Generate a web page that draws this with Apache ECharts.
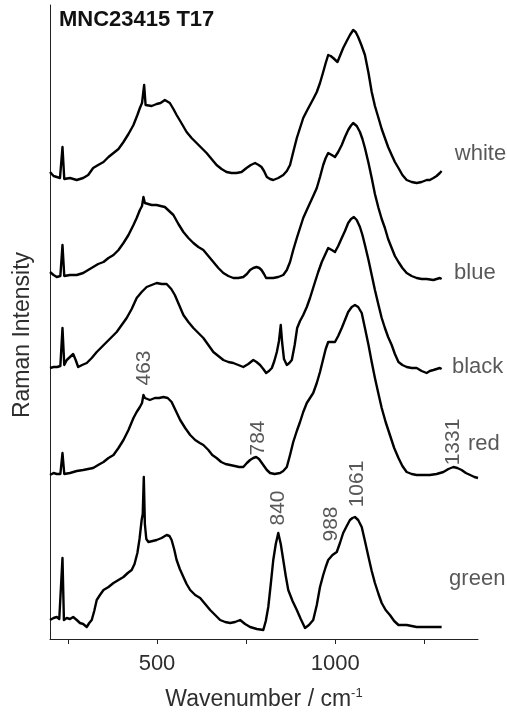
<!DOCTYPE html>
<html>
<head>
<meta charset="utf-8">
<script src="https://cdn.jsdelivr.net/npm/echarts@6/dist/echarts.min.js"></script>
<style>
  html, body { margin: 0; padding: 0; background: #fff; }
  #chart { width: 507px; height: 715px; }
</style>
</head>
<body>
<div id="chart"></div>
<script>
// Raman spectra of sample MNC23415 T17, five colour zones stacked with offsets.
// Each entry: [wavenumber (cm-1), intensity incl. stacking offset (a.u.)]
const white = [
  [200,467],[210,463],[219,462],[228,461],[235,492],[240,460],[256,461],[275,459],[293,461],[307,464],
  [321,471],[335,474],[350,477],[364,482],[378,486],[392,490],[406,497],[420,505],[434,514],[445,524],
  [452,531],[458,536],[464,554],[468,534],[471,532],[485,533],[499,535],[510,536],[522,539],[536,536],
  [546,530],[555,524],[570,515],[583,507],[597,501],[611,496],[625,491],[639,486],[653,480],[667,474],
  [681,470],[695,467],[709,466],[723,466],[737,467],[751,471],[763,474],[775,476],[785,474],[793,472],
  [800,468],[808,462],[817,460],[826,459],[840,461],[854,464],[864,468],[873,474],[882,487],[892,501],
  [901,511],[910,521],[920,528],[929,534],[938,540],[948,547],[957,556],[966,567],[973,576],[980,584],
  [987,583],[994,581],[1000,579],[1006,577],[1014,584],[1022,591],[1032,598],[1041,604],[1050,609],[1057,607],
  [1064,602],[1073,594],[1083,584],[1093,566],[1102,547],[1111,533],[1121,521],[1130,510],[1139,501],[1148,492],
  [1158,484],[1167,477],[1177,471],[1188,464],[1200,459],[1214,457],[1228,456],[1242,457],[1256,459],[1265,459],
  [1275,461],[1284,463],[1293,466],[1298,468]
];
const blue = [
  [200,367],[210,364],[219,362],[229,363],[235,394],[240,363],[256,364],[275,364],[293,366],[307,369],
  [321,372],[335,375],[350,377],[364,381],[378,384],[392,389],[406,396],[420,404],[434,414],[443,421],
  [452,429],[458,433],[462,442],[466,436],[471,435],[485,434],[499,434],[510,433],[522,432],[534,428],
  [546,424],[560,415],[574,407],[588,401],[602,396],[616,392],[630,389],[644,383],[658,377],[672,371],
  [686,366],[700,363],[714,361],[728,361],[742,362],[752,365],[761,369],[770,371],[779,372],[787,371],
  [793,369],[800,365],[806,361],[815,361],[826,361],[840,362],[854,364],[864,369],[873,377],[882,389],
  [892,401],[901,411],[910,421],[920,429],[929,436],[938,443],[948,451],[957,462],[966,474],[973,481],
  [980,486],[990,484],[999,482],[1008,487],[1018,494],[1027,502],[1036,509],[1043,513],[1050,516],[1060,513],
  [1069,507],[1076,500],[1083,491],[1093,476],[1102,461],[1111,445],[1121,431],[1130,420],[1139,411],[1148,400],
  [1158,391],[1167,383],[1177,377],[1188,371],[1200,366],[1214,363],[1228,361],[1242,360],[1256,360],[1275,359],
  [1293,361],[1298,360]
];
const black = [
  [200,271],[210,272],[220,272],[229,273],[235,311],[240,274],[247,279],[256,282],[265,285],[272,279],
  [279,272],[290,274],[303,276],[317,281],[331,287],[345,292],[359,297],[373,302],[387,307],[401,314],
  [415,321],[429,330],[443,341],[457,347],[471,352],[485,354],[499,356],[513,355],[527,355],[540,350],
  [550,344],[562,334],[574,324],[588,317],[602,311],[616,306],[630,301],[644,294],[658,287],[672,283],
  [686,279],[700,277],[714,276],[728,274],[742,272],[756,275],[770,279],[779,277],[789,274],[798,270],
  [806,266],[814,268],[822,271],[829,278],[836,287],[842,298],[847,314],[851,296],[856,280],[864,274],
  [871,276],[878,279],[886,294],[893,311],[901,318],[910,324],[920,332],[929,341],[936,349],[943,357],
  [952,367],[962,377],[971,384],[980,391],[990,389],[999,387],[1008,393],[1018,401],[1027,408],[1036,416],
  [1044,420],[1052,422],[1060,419],[1069,412],[1076,404],[1083,394],[1093,379],[1102,364],[1111,349],[1121,334],
  [1130,321],[1139,311],[1148,302],[1158,294],[1167,285],[1177,277],[1188,274],[1200,272],[1214,271],[1228,271],
  [1242,268],[1256,266],[1265,268],[1275,269],[1284,270],[1293,271],[1298,270]
];
const red = [
  [200,164],[210,166],[219,165],[229,165],[235,186],[240,165],[256,166],[275,168],[293,169],[307,170],
  [321,171],[335,174],[350,177],[364,181],[378,184],[392,191],[406,199],[420,209],[434,221],[443,227],
  [452,232],[458,236],[462,244],[466,241],[471,240],[480,239],[494,241],[506,241],[518,242],[530,241],
  [541,237],[553,228],[565,219],[579,211],[593,204],[607,199],[620,196],[630,194],[644,189],[655,184],
  [667,181],[680,177],[692,175],[705,174],[718,173],[730,172],[742,172],[752,176],[761,179],[770,181],
  [778,182],[786,180],[792,177],[798,174],[808,169],[817,166],[830,165],[845,166],[854,168],[864,172],
  [873,184],[882,197],[892,208],[901,217],[910,227],[920,236],[929,241],[938,246],[948,256],[957,267],
  [966,280],[973,290],[980,297],[990,297],[999,297],[1008,303],[1018,311],[1027,319],[1036,327],[1046,332],
  [1055,334],[1064,332],[1074,326],[1083,311],[1093,294],[1102,277],[1111,261],[1121,245],[1130,231],[1141,217],
  [1153,204],[1165,191],[1177,181],[1188,173],[1200,167],[1214,165],[1228,164],[1246,164],[1265,164],[1284,165],
  [1303,167],[1317,170],[1331,172],[1342,171],[1354,169],[1366,166],[1378,164],[1390,162],[1400,161]
];
const green = [
  [200,19],[210,21],[219,22],[226,20],[231,20],[235,81],[239,19],[247,21],[256,20],[265,22],
  [275,19],[284,16],[293,15],[303,12],[310,16],[317,19],[324,28],[331,39],[340,44],[350,49],
  [364,52],[378,56],[392,59],[406,62],[418,66],[429,69],[437,75],[445,86],[451,100],[457,119],
  [460,125],[463,162],[466,115],[470,100],[476,97],[488,98],[499,99],[513,101],[527,104],[535,103],
  [541,99],[548,90],[555,79],[564,70],[574,62],[583,55],[593,49],[607,44],[621,41],[635,35],
  [649,29],[663,24],[677,19],[691,17],[705,16],[719,17],[733,19],[747,15],[761,12],[780,10],
  [798,9],[805,18],[812,32],[819,55],[826,79],[833,95],[840,106],[847,95],[854,79],[861,63],
  [868,49],[880,38],[892,29],[903,20],[915,11],[926,14],[938,19],[948,34],[957,52],[966,64],
  [973,72],[980,79],[992,84],[1004,87],[1013,96],[1022,106],[1032,113],[1041,119],[1048,121],[1055,122],
  [1064,119],[1074,112],[1083,98],[1093,82],[1102,68],[1111,56],[1121,45],[1130,36],[1141,29],[1153,24],
  [1165,18],[1177,14],[1188,14],[1200,14],[1214,13],[1228,12],[1246,12],[1265,12],[1280,12],[1293,12],[1298,12]
];

// Zone names drawn beside the traces
const zoneNames = ['white', 'blue', 'black', 'red', 'green'];
const zoneNameWavenumber = [1335, 1333, 1327, 1372, 1319];
const zoneNameLevel = [485, 366, 272, 195, 60];

// Band positions (cm-1) annotated on the red and green traces
const bandPositions = [463, 784, 840, 988, 1061, 1331];
const bandLabelLevel = [270, 204, 128, 117, 155, 203];
const bandLabelNudge = [1, -3, 3, -2, 0, -6];

// Wavenumber axis ticks
const wavenumberTicks = [250, 500, 750, 1000, 1250];
const wavenumberLabels = [500, 1000];

const spectra = [white, blue, black, red, green];
const FONT = '"Liberation Sans", Arial, Helvetica, sans-serif';
const TEXT_COLOR = '#2e2e2e';

const chart = echarts.init(document.getElementById('chart'), null, { renderer: 'canvas' });

const seriesList = spectra.map((data, i) => ({
  name: zoneNames[i],
  type: 'line',
  data: data,
  showSymbol: false,
  symbol: 'none',
  animation: false,
  lineStyle: { color: '#000', width: 2.4, join: 'round' },
  z: 2
}));

seriesList.push({
  type: 'scatter',
  symbolSize: 0,
  animation: false,
  silent: true,
  data: zoneNames.map((n, i) => ({ value: [zoneNameWavenumber[i], zoneNameLevel[i]], name: n })),
  label: {
    show: true,
    position: 'inside',
    align: 'left',
    verticalAlign: 'middle',
    formatter: p => p.name,
    fontFamily: FONT,
    fontSize: 22,
    color: TEXT_COLOR
  }
});

seriesList.push({
  type: 'scatter',
  symbolSize: 0,
  animation: false,
  silent: true,
  data: bandPositions.map((b, i) => ({
    value: [b, bandLabelLevel[i]],
    name: String(b),
    label: { offset: [bandLabelNudge[i], 0] }
  })),
  label: {
    show: true,
    position: 'inside',
    rotate: 90,
    align: 'center',
    verticalAlign: 'middle',
    formatter: p => p.name,
    fontFamily: FONT,
    fontSize: 21,
    color: TEXT_COLOR
  }
});

chart.setOption({
  backgroundColor: '#fff',
  animation: false,
  title: {
    text: 'MNC23415 T17',
    left: 59,
    top: 9,
    padding: 0,
    textStyle: { fontFamily: FONT, fontSize: 22, fontWeight: 'bold', color: '#111' }
  },
  grid: { left: 50, right: 29, top: 5, bottom: 76, outerBoundsMode: 'none' },
  xAxis: {
    type: 'value',
    min: 200,
    max: 1400,
    splitLine: { show: false },
    axisLine: { show: true, onZero: false, lineStyle: { color: '#222', width: 1 } },
    axisTick: { show: true, customValues: wavenumberTicks, length: 5, inside: false, lineStyle: { color: '#222' } },
    axisLabel: {
      customValues: wavenumberLabels,
      formatter: v => String(v),
      margin: 14,
      fontFamily: FONT,
      fontSize: 22,
      color: TEXT_COLOR
    },
    name: '{a|Wavenumber / cm}{s|-1}',
    nameLocation: 'middle',
    nameGap: 48,
    nameTextStyle: {
      rich: {
        a: { fontFamily: FONT, fontSize: 23, color: TEXT_COLOR, lineHeight: 26 },
        s: { fontFamily: FONT, fontSize: 13, color: TEXT_COLOR, verticalAlign: 'top', lineHeight: 26 }
      }
    }
  },
  yAxis: {
    type: 'value',
    min: 0,
    max: 634,
    splitLine: { show: false },
    axisLine: { show: true, lineStyle: { color: '#222', width: 1 } },
    axisTick: { show: false },
    axisLabel: { show: false },
    name: 'Raman Intensity',
    nameLocation: 'middle',
    nameGap: 16,
    nameTextStyle: { fontFamily: FONT, fontSize: 23, color: TEXT_COLOR, padding: [0, 26, 0, 0] }
  },
  series: seriesList
});
</script>
</body>
</html>
